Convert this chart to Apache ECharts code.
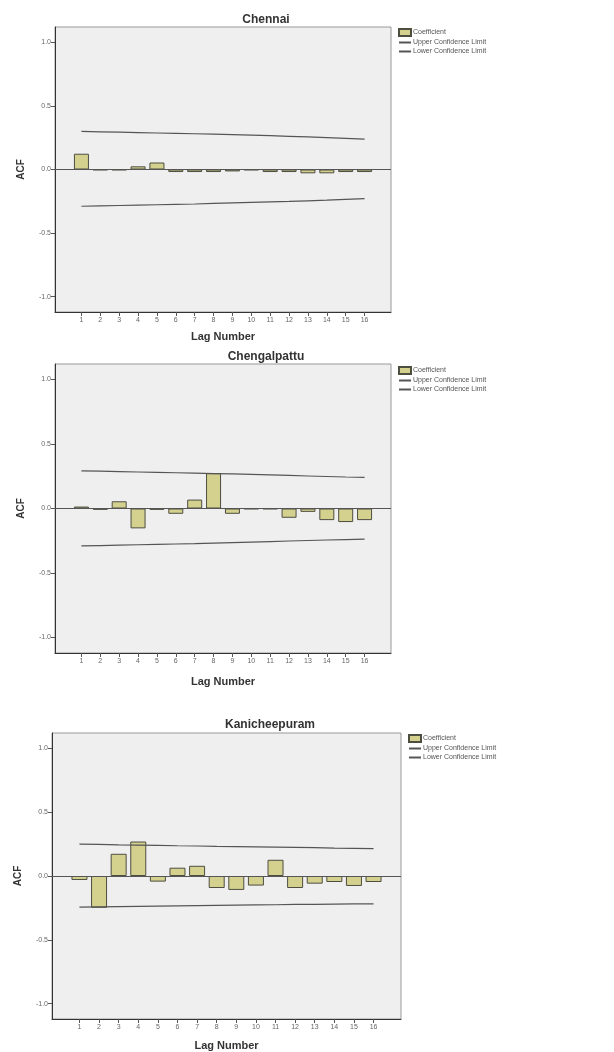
<!DOCTYPE html>
<html>
<head>
<meta charset="utf-8">
<script src="https://cdn.jsdelivr.net/npm/echarts@6/dist/echarts.min.js"></script>
<style>
  html, body { margin: 0; padding: 0; background: #ffffff; }
  #chart { width: 614px; height: 1052px; }
</style>
</head>
<body>
<div id="chart"></div>
<script>
// lag numbers and y tick values
const lags = [1, 2, 3, 4, 5, 6, 7, 8, 9, 10, 11, 12, 13, 14, 15, 16];
const yTicks = [-1.0, -0.5, 0.0, 0.5, 1.0];

// Chennai
const chennaiAcf = [0.124, -0.005, -0.005, 0.025, 0.055, -0.02, -0.02, -0.02, -0.015, -0.005, -0.02, -0.02, -0.03, -0.03, -0.02, -0.02];
const chennaiUpper = [0.299, 0.296, 0.293, 0.290, 0.287, 0.284, 0.281, 0.278, 0.274, 0.270, 0.266, 0.261, 0.256, 0.251, 0.245, 0.238];
const chennaiLower = [-0.289, -0.286, -0.283, -0.280, -0.277, -0.274, -0.271, -0.267, -0.263, -0.259, -0.255, -0.251, -0.246, -0.241, -0.235, -0.229];

// Chengalpattu
const chengalAcf = [0.015, -0.01, 0.056, -0.154, -0.01, -0.041, 0.069, 0.274, -0.041, -0.005, -0.005, -0.072, -0.026, -0.09, -0.105, -0.09];
const chengalUpper = [0.292, 0.289, 0.286, 0.283, 0.280, 0.277, 0.274, 0.271, 0.268, 0.264, 0.260, 0.256, 0.252, 0.248, 0.244, 0.241];
const chengalLower = [-0.290, -0.287, -0.284, -0.281, -0.278, -0.275, -0.272, -0.268, -0.264, -0.260, -0.256, -0.252, -0.248, -0.244, -0.241, -0.238];

// Kanicheepuram
const kaniAcf = [-0.031, -0.249, 0.174, 0.27, -0.044, 0.065, 0.08, -0.094, -0.109, -0.075, 0.127, -0.094, -0.06, -0.047, -0.078, -0.047];
const kaniUpper = [0.249, 0.247, 0.244, 0.242, 0.240, 0.237, 0.235, 0.232, 0.230, 0.228, 0.226, 0.224, 0.222, 0.219, 0.217, 0.214];
const kaniLower = [-0.244, -0.242, -0.240, -0.238, -0.236, -0.234, -0.232, -0.230, -0.228, -0.226, -0.225, -0.223, -0.222, -0.220, -0.219, -0.218];

const panels = [
  { title: 'Chennai', acf: chennaiAcf, upper: chennaiUpper, lower: chennaiLower,
    grid: { left: 55, top: 27, width: 336, height: 285 }, titleX: 261, titleY: 9, legendTop: 23, barW: 15, nameGap: 19 },
  { title: 'Chengalpattu', acf: chengalAcf, upper: chengalUpper, lower: chengalLower,
    grid: { left: 55, top: 364, width: 336, height: 289 }, titleX: 261, titleY: 346, legendTop: 361, barW: 15, nameGap: 23 },
  { title: 'Kanicheepuram', acf: kaniAcf, upper: kaniUpper, lower: kaniLower,
    grid: { left: 52, top: 733, width: 349, height: 286 }, titleX: 265, titleY: 714, legendTop: 729, barW: 16, nameGap: 21 }
];

const pair = (arr) => arr.map((v, i) => [lags[i], v]);

const chart = echarts.init(document.getElementById('chart'), null, { renderer: 'canvas' });

const option = {
  backgroundColor: '#ffffff',
  animation: false,
  textStyle: { fontFamily: 'Liberation Sans, Arial, sans-serif' },
  title: [],
  legend: [],
  grid: [],
  xAxis: [],
  yAxis: [],
  series: []
};

panels.forEach((p, k) => {
  option.title.push({
    text: p.title,
    left: p.titleX,
    top: p.titleY,
    textAlign: 'center',
    textStyle: { fontSize: 12, fontWeight: 'bold', color: '#333333' }
  });
  option.legend.push({
    left: p.grid.left + p.grid.width + 2,
    top: p.legendTop,
    orient: 'vertical',
    itemWidth: 12,
    itemHeight: 7,
    itemGap: 2,
    textStyle: { fontSize: 7, color: '#555555', padding: [0, 0, 0, -3] },
    data: [
      { name: 'Coefficient', icon: 'rect' },
      // hide the symbol dot so only the line shows
      { name: 'Upper Confidence Limit', itemStyle: { opacity: 0 } },
      { name: 'Lower Confidence Limit', itemStyle: { opacity: 0 } }
    ]
  });
  option.grid.push(Object.assign({
    show: true,
    backgroundColor: '#efefef',
    borderColor: '#999999',
    borderWidth: 1
  }, p.grid));
  option.xAxis.push({
    gridIndex: k,
    type: 'value',
    min: -0.4,
    max: 17.4,
    name: 'Lag Number',
    nameLocation: 'middle',
    nameGap: p.nameGap,
    nameTextStyle: { fontSize: 11, fontWeight: 'bold', color: '#333333' },
    axisLine: { show: true, onZero: false, lineStyle: { color: '#333333' } },
    axisTick: { show: true, length: 4, customValues: lags, lineStyle: { color: '#555555' } },
    axisLabel: { customValues: lags, fontSize: 7, color: '#666666', margin: 5 },
    splitLine: { show: false }
  });
  option.yAxis.push({
    gridIndex: k,
    type: 'value',
    min: -1.12,
    max: 1.12,
    name: 'ACF',
    nameLocation: 'middle',
    nameGap: 29,
    nameTextStyle: { fontSize: 10, fontWeight: 'bold', color: '#333333' },
    axisLine: { show: true, onZero: false, lineStyle: { color: '#333333' } },
    axisTick: { show: true, length: 4, customValues: yTicks, lineStyle: { color: '#555555' } },
    axisLabel: { customValues: yTicks, fontSize: 7, color: '#666666', margin: 4,
      formatter: (v) => v.toFixed(1) },
    splitLine: { show: false }
  });
  option.series.push({
    name: 'Coefficient',
    type: 'bar',
    xAxisIndex: k,
    yAxisIndex: k,
    barWidth: p.barW,
    data: pair(p.acf),
    itemStyle: { color: '#d4d18e', borderColor: '#4d4d40', borderWidth: 1 },
    markLine: {
      silent: true,
      symbol: 'none',
      label: { show: false },
      lineStyle: { color: '#555555', type: 'solid', width: 1 },
      data: [{ yAxis: 0 }]
    }
  });
  option.series.push({
    name: 'Upper Confidence Limit',
    type: 'line',
    xAxisIndex: k,
    yAxisIndex: k,
    symbol: 'none',
    data: pair(p.upper),
    lineStyle: { color: '#555555', width: 1.2 },
    itemStyle: { color: '#555555' }
  });
  option.series.push({
    name: 'Lower Confidence Limit',
    type: 'line',
    xAxisIndex: k,
    yAxisIndex: k,
    symbol: 'none',
    data: pair(p.lower),
    lineStyle: { color: '#555555', width: 1.2 },
    itemStyle: { color: '#555555' }
  });
});

chart.setOption(option);
</script>
</body>
</html>
